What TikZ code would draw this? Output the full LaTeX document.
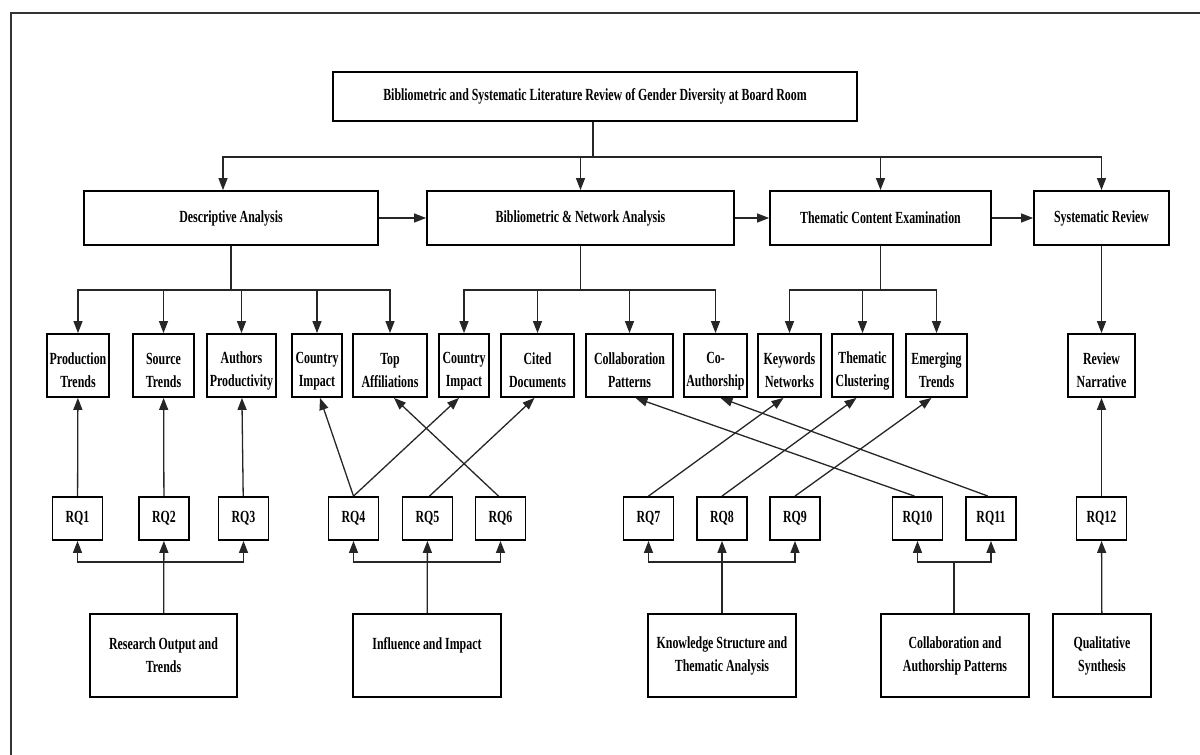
\documentclass[tikz,border=0pt]{standalone}
\usepackage{fontspec}
\setmainfont{Liberation Serif}[FakeStretch=0.7]
\usetikzlibrary{arrows.meta}
\tikzset{
  box/.style={draw, line width=1.8pt, inner sep=1pt, align=center,
    font=\fontsize{17}{23}\selectfont\bfseries},
  link/.style={line width=1.3pt, draw=black!85},
  arrow/.style={link, -{Triangle[length=12pt,width=9pt]}}
}
\begin{document}
\begin{tikzpicture}[x=1pt, y=-1pt]
\useasboundingbox (0,0) rectangle (1200,755);
\draw[line width=2pt, black!80] (11,755) -- (11,13) -- (1200,13); %frame
% top level
\node[box, minimum width=524pt, minimum height=49pt] (title) at (595,96.5)
  {Bibliometric and Systematic Literature Review of Gender Diversity at Board Room};
\node[box, minimum width=294pt, minimum height=54pt] (desc) at (231,218) {Descriptive Analysis};
\node[box, minimum width=307pt, minimum height=54pt] (biblio) at (580.5,218) {Bibliometric \& Network Analysis};
\node[box, minimum width=221pt, minimum height=54pt] (thema) at (880.5,218) {Thematic Content Examination};
\node[box, minimum width=135pt, minimum height=54pt] (sysrev) at (1101.5,218) {Systematic Review};
% analysis boxes
\foreach \n/\x/\w/\t in {prod/78/62/Production\\Trends, source/163.5/61/Source\\Trends,
    authors/241.5/69/Authors\\Productivity, country/317/50/Country\\Impact,
    topaff/390/74/Top\\Affiliations, countryb/464/50/Country\\Impact,
    cited/537.5/73/Cited\\Documents, collab/629.5/87/Collaboration\\Patterns,
    coauth/715.5/63/Co-\\Authorship, keyw/789.5/63/Keywords\\Networks,
    themclu/862.5/61/Thematic\\Clustering, emerg/936.5/61/Emerging\\Trends,
    review/1101.5/67/Review\\Narrative}{
  \node[box, minimum width=\w pt, minimum height=63pt] (\n) at (\x,365.5) {\rule{0pt}{22pt}\t};
}
% research questions
\foreach \i/\x in {1/77.5, 2/164, 3/243.5, 4/353.5, 5/427.5, 6/500.5, 7/648.5,
    8/722, 9/795, 10/917.5, 11/991, 12/1101.5}{
  \node[box, minimum width=50pt, minimum height=43pt] (rq\i) at (\x,518.5) {RQ\i};
}
% themes
\node[box, minimum width=147pt, minimum height=83pt] (resout) at (163.5,655.5) {Research Output and\\Trends};
\node[box, minimum width=148pt, minimum height=83pt] (infl) at (427,655.5) {Influence and Impact\\\mbox{}};
\node[box, minimum width=148pt, minimum height=83pt] (know) at (722,655.5) {Knowledge Structure and\\Thematic Analysis};
\node[box, minimum width=148pt, minimum height=83pt] (collpat) at (955,655.5) {Collaboration and\\Authorship Patterns};
\node[box, minimum width=98pt, minimum height=83pt] (qual) at (1102,655.5) {Qualitative\\Synthesis};

% title to main stages
\coordinate (tbus) at ([xshift=-2pt, yshift=-35pt]title.south);
\draw[link] ([xshift=-2pt]title.south) -- (tbus);
\draw[arrow] (tbus) -| ([xshift=-8pt]desc.north);
\foreach \n in {biblio, thema, sysrev}
  \draw[arrow] (tbus) -| (\n.north);
\draw[arrow] (desc) -- (biblio);
\draw[arrow] (biblio) -- (thema);
\draw[arrow] (thema) -- (sysrev);

% stages to analyses
\coordinate (dbus) at ([yshift=-44pt]desc.south);
\draw[link] (desc.south) -- (dbus);
\foreach \n in {prod, source, authors, country, topaff}
  \draw[arrow] (dbus) -| (\n.north);
\coordinate (bbus) at ([yshift=-44pt]biblio.south);
\draw[link] (biblio.south) -- (bbus);
\foreach \n in {countryb, cited, collab, coauth}
  \draw[arrow] (bbus) -| (\n.north);
\coordinate (ebus) at ([yshift=-44pt]thema.south);
\draw[link] (thema.south) -- (ebus);
\foreach \n in {keyw, themclu, emerg}
  \draw[arrow] (ebus) -| (\n.north);
\draw[arrow] (sysrev) -- (review);

% questions to analyses
\draw[arrow] (rq1) -- (prod);
\draw[arrow] (rq2) -- (source);
\draw[arrow] (rq3) -- (authors);
\draw[arrow] (rq4.north) -- ([xshift=3pt]country.south);
\draw[arrow] (rq4.north) -- ([xshift=-5pt]countryb.south);
\draw[arrow] ([xshift=2pt]rq5.north) -- ([xshift=-3pt]cited.south);
\draw[arrow] ([xshift=-2pt]rq6.north) -- ([xshift=4pt]topaff.south);
\draw[arrow] (rq7.north) -- ([xshift=-6pt]keyw.south);
\draw[arrow] (rq8.north) -- ([xshift=-6pt]themclu.south);
\draw[arrow] (rq9.north) -- ([xshift=-5pt]emerg.south);
\draw[arrow] ([xshift=-3pt]rq10.north) -- ([xshift=6pt]collab.south);
\draw[arrow] ([xshift=-3pt]rq11.north) -- ([xshift=5pt]coauth.south);
\draw[arrow] (rq12) -- (review);

% themes to questions
\coordinate (rbus) at ([yshift=51pt]resout.north);
\draw[arrow] (resout) -- (rq2);
\draw[arrow] (rbus) -| (rq1.south);
\draw[arrow] (rbus) -| (rq3.south);
\coordinate (ibus) at ([yshift=51pt]infl.north);
\draw[arrow] (infl) -- (rq5);
\draw[arrow] (ibus) -| (rq4.south);
\draw[arrow] (ibus) -| (rq6.south);
\coordinate (kbus) at ([yshift=51pt]know.north);
\draw[arrow] (know) -- (rq8);
\draw[arrow] (kbus) -| (rq7.south);
\draw[arrow] (kbus) -| (rq9.south);
\coordinate (cbus) at ([xshift=-1pt, yshift=51pt]collpat.north);
\draw[link] ([xshift=-1pt]collpat.north) -- (cbus);
\draw[arrow] (cbus) -| (rq10.south);
\draw[arrow] (cbus) -| (rq11.south);
\draw[arrow] (qual) -- (rq12);
\end{tikzpicture}
\end{document}
